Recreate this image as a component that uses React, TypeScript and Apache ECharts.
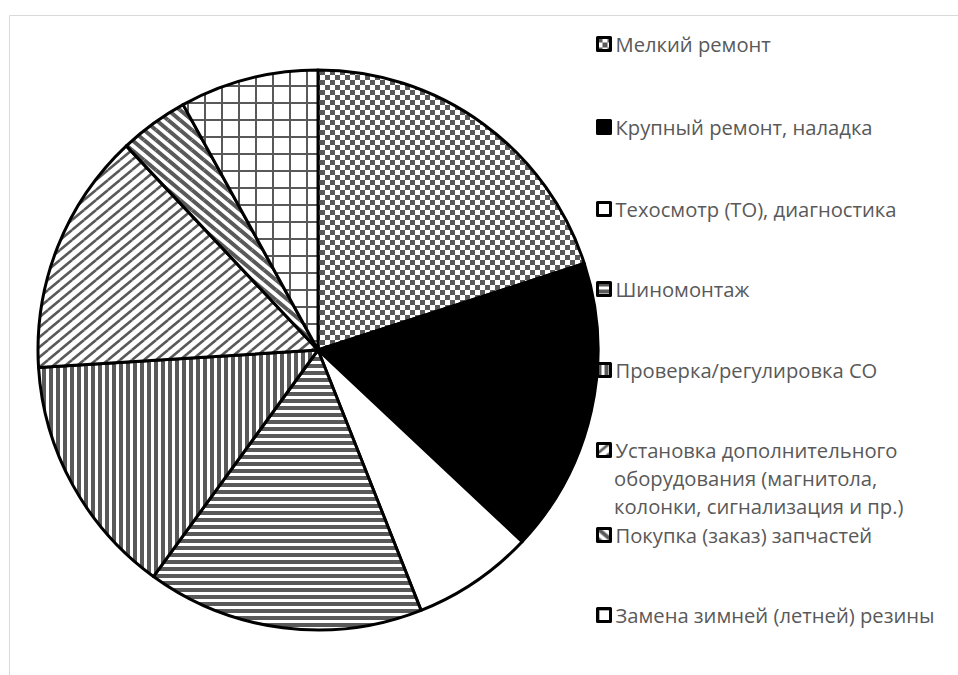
import React, { useEffect, useRef } from 'react';
import * as echarts from 'echarts';

// Service categories and their shares, %
const categories = [
  'Мелкий ремонт',
  'Крупный ремонт, наладка',
  'Техосмотр (ТО), диагностика',
  'Шиномонтаж',
  'Проверка/регулировка СО',
  'Установка дополнительного оборудования (магнитола, колонки, сигнализация и пр.)',
  'Покупка (заказ) запчастей',
  'Замена зимней (летней) резины',
];
const shares = [20, 17, 7, 16, 14, 14, 4, 8];

// Legend text, wrapped the way it is printed
const legendLines = [
  ['Мелкий ремонт'],
  ['Крупный ремонт, наладка'],
  ['Техосмотр (ТО), диагностика'],
  ['Шиномонтаж'],
  ['Проверка/регулировка СО'],
  ['Установка дополнительного', 'оборудования (магнитола,', 'колонки, сигнализация и пр.)'],
  ['Покупка (заказ) запчастей'],
  ['Замена зимней (летней) резины'],
];

// Layout constants
const LEGEND_LEFT = 596;
const LEGEND_ROWS = [44, 127, 209, 289, 370, 450, 535, 615];
const WRAP_STEP = 28;
const LINE_H = 20;
const FONT = '"Open Sans", "Noto Sans", sans-serif';
const FONT_SIZE = 20.2;
const TEXT_COLOR = '#595959';
const INK = '#595959';

type Draw = (ctx: CanvasRenderingContext2D, w: number, h: number) => void;

function tile(w: number, h: number, draw: Draw) {
  const c = document.createElement('canvas');
  c.width = w;
  c.height = h;
  const ctx = c.getContext('2d')!;
  ctx.fillStyle = '#ffffff';
  ctx.fillRect(0, 0, w, h);
  ctx.fillStyle = INK;
  ctx.strokeStyle = INK;
  draw(ctx, w, h);
  return { image: c, repeat: 'repeat', imageWidth: w, imageHeight: h } as any;
}

function diagonal(up: boolean, lw: number): Draw {
  return (ctx, w, h) => {
    ctx.lineWidth = lw;
    const offs = [
      [0, 0], [w, 0], [-w, 0], [0, h], [0, -h],
    ];
    for (const [ox, oy] of offs) {
      ctx.beginPath();
      if (up) {
        ctx.moveTo(ox, oy + h);
        ctx.lineTo(ox + w, oy);
      } else {
        ctx.moveTo(ox, oy);
        ctx.lineTo(ox + w, oy + h);
      }
      ctx.stroke();
    }
  };
}

function makeFills() {
  return [
    tile(10, 10, (ctx) => {
      ctx.fillRect(0, 0, 5, 5);
      ctx.fillRect(5, 5, 5, 5);
    }),
    '#000000',
    '#ffffff',
    tile(8, 7, (ctx, w) => ctx.fillRect(0, 0, w, 4)),
    tile(7, 8, (ctx, _w, h) => ctx.fillRect(0, 0, 4, h)),
    tile(12, 10, diagonal(true, 2.6)),
    tile(12, 10, diagonal(false, 4)),
    tile(17, 17, (ctx, w, h) => {
      ctx.fillRect(0, 0, w, 2);
      ctx.fillRect(0, 0, 2, h);
    }),
  ];
}

export default function App() {
  const ref = useRef<HTMLDivElement>(null);

  useEffect(() => {
    if (!ref.current) return;
    const chart = echarts.init(ref.current, undefined, { renderer: 'svg' });
    const fills = makeFills();

    const legends = categories.map((name, i) => ({
      data: [name],
      orient: 'vertical',
      left: LEGEND_LEFT,
      top: LEGEND_ROWS[i] - LINE_H / 2,
      padding: 0,
      itemGap: 0,
      itemWidth: 13,
      itemHeight: 13,
      icon: 'rect',
      selectedMode: false,
      formatter: () => legendLines[i][0],
      itemStyle: { borderColor: '#000000', borderWidth: 3 },
      textStyle: {
        color: TEXT_COLOR,
        fontSize: FONT_SIZE,
        fontFamily: FONT,
        lineHeight: LINE_H,
      },
    }));

    // continuation lines of wrapped legend entries
    const extraText: any[] = [];
    legendLines.forEach((lines, i) => {
      lines.slice(1).forEach((line, k) => {
        extraText.push({
          type: 'text',
          left: LEGEND_LEFT + 13 + 5,
          top: LEGEND_ROWS[i] + WRAP_STEP * (k + 1) - LINE_H / 2,
          style: {
            text: line,
            fill: TEXT_COLOR,
            font: `${FONT_SIZE}px ${FONT}`,
            lineHeight: LINE_H,
          },
        });
      });
    });

    chart.setOption({
      animation: false,
      backgroundColor: '#ffffff',
      legend: legends,
      graphic: [
        {
          type: 'rect',
          shape: { x: 9.5, y: 15.5, width: 1000, height: 700 },
          style: { fill: 'none', stroke: '#d9d9d9', lineWidth: 1 },
          silent: true,
        },
        ...extraText,
      ],
      series: [
        {
          type: 'pie',
          center: [318, 350],
          radius: 280,
          startAngle: 90,
          clockwise: true,
          avoidLabelOverlap: false,
          label: { show: false },
          labelLine: { show: false },
          emphasis: { disabled: true },
          silent: true,
          itemStyle: {
            borderColor: '#000000',
            borderWidth: 3,
            borderJoin: 'round',
          },
          data: categories.map((name, i) => ({
            name,
            value: shares[i],
            itemStyle: { color: fills[i] },
          })),
        },
      ],
    });

    return () => chart.dispose();
  }, []);

  return (
    <div
      ref={ref}
      style={{ position: 'fixed', left: 0, top: 0, width: 958, height: 675, background: '#fff' }}
    />
  );
}
